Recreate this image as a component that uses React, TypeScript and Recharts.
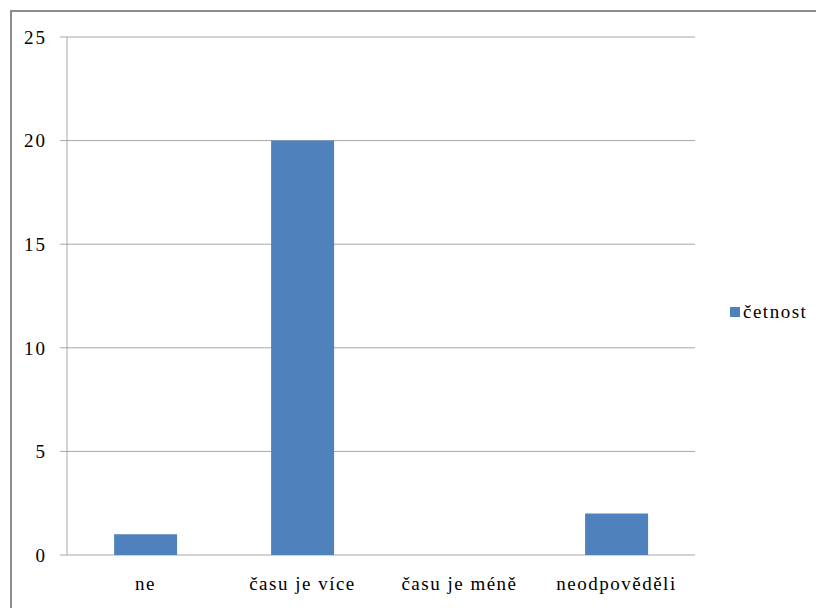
import React from "react";
import { BarChart, Bar, XAxis, YAxis, CartesianGrid } from "recharts";

const categories = ["ne", "času je více", "času je méně", "neodpověděli"];
const counts = [1, 20, 0, 2];
const seriesName = "četnost";
const yTicks = [0, 5, 10, 15, 20, 25];
const boundaryTicks = [0, 1, 2, 3, 4];

const data = categories.map((c, i) => ({ name: c, idx: i + 0.5, value: counts[i] }));

const BAR = "#4F81BD";
const GRID = "#a6a6a6";
const FONT = "Liberation Serif, DejaVu Serif, Times, serif";

export default function App() {
  return (
    <div style={{ position: "relative", width: 816, height: 600, overflow: "hidden", background: "#fff" }}>
      <div
        style={{
          position: "absolute",
          left: 2,
          top: 2,
          width: 840,
          height: 640,
          border: "2px solid #8c8c8c",
          boxSizing: "border-box",
        }}
      />
      <div style={{ position: "absolute", left: 0, top: 0 }}>
        <BarChart
          width={816}
          height={600}
          data={data}
          margin={{ top: 29, right: 129, bottom: 0, left: 0 }}
          barCategoryGap="30%"
        >
          <CartesianGrid vertical={false} stroke={GRID} strokeWidth={1} />
          <XAxis
            xAxisId="edges"
            dataKey="idx"
            type="number"
            domain={[0, 4]}
            ticks={boundaryTicks}
            tick={false}
            tickLine={{ stroke: GRID }}
            tickSize={8}
            axisLine={{ stroke: GRID }}
            height={0}
          />
          <XAxis
            dataKey="name"
            tickLine={false}
            axisLine={false}
            tickMargin={16}
            height={53}
            tick={{ fill: "#000", fontSize: 19, fontFamily: FONT, letterSpacing: 1.5 }}
          />
          <YAxis
            domain={[0, 25]}
            ticks={yTicks}
            width={59}
            tickSize={7}
            tickMargin={13}
            tickLine={{ stroke: GRID }}
            axisLine={{ stroke: GRID }}
            tick={{ fill: "#000", fontSize: 19, fontFamily: FONT, letterSpacing: 2 }}
          />
          <Bar dataKey="value" name={seriesName} fill={BAR} isAnimationActive={false} />
        </BarChart>
      </div>
      <div
        style={{
          position: "absolute",
          left: 722,
          top: 293,
          display: "flex",
          alignItems: "center",
          fontFamily: FONT,
          fontSize: 19,
          letterSpacing: 1.5,
          color: "#000",
        }}
      >
        <span style={{ display: "inline-block", width: 10, height: 10, background: BAR, marginRight: 3 }} />
        <span>{seriesName}</span>
      </div>
    </div>
  );
}
